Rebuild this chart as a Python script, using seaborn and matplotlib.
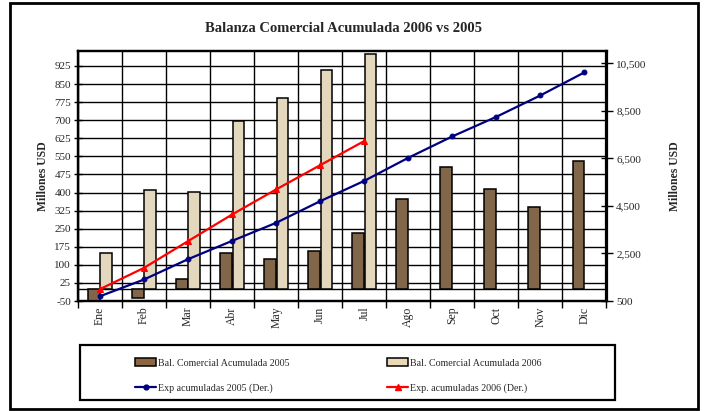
import numpy as np
import pandas as pd
import matplotlib
matplotlib.use("Agg")
import matplotlib.pyplot as plt
import matplotlib.ticker as mticker
from matplotlib.patches import Rectangle, Patch
from matplotlib.lines import Line2D
import seaborn as sns

# ---------------- data ----------------
meses = ["Ene", "Feb", "Mar", "Abr", "May", "Jun", "Jul", "Ago", "Sep", "Oct", "Nov", "Dic"]
bal_2005 = [-50, -38, 43, 148, 125, 158, 232, 373, 506, 414, 341, 530]
bal_2006 = [149, 412, 404, 697, 793, 909, 974, None, None, None, None, None]
exp_2005 = [700, 1405, 2260, 3030, 3790, 4700, 5555, 6525, 7425, 8250, 9150, 10120]
exp_2006 = [1000, 1895, 3020, 4140, 5195, 6215, 7230]

lab_b05 = "Bal. Comercial Acumulada 2005"
lab_b06 = "Bal. Comercial Acumulada 2006"
lab_e05 = "Exp acumuladas 2005 (Der.)"
lab_e06 = "Exp. acumuladas 2006 (Der.)"
left_ticks = list(range(-50, 926, 75))
right_ticks = list(range(500, 10501, 2000))

# ---------------- style ----------------
sns.set_theme(style="white")
plt.rcParams["font.family"] = ["Liberation Serif", "DejaVu Serif"]
plt.rcParams["axes.unicode_minus"] = False

W, H = 705, 411
fig = plt.figure(figsize=(W / 100, H / 100), dpi=100)

def fx(px):
    return px / W

def fy(py):
    return 1 - py / H

# outer frame
fig.patches.append(Rectangle((fx(10), fy(409)), fx(698) - fx(10), fy(3.5) - fy(409),
                             transform=fig.transFigure, fill=False, lw=2, ec="black", zorder=0))

L, R, T, B = 78, 606.5, 51, 301
ax = fig.add_axes([fx(L), fy(B), fx(R) - fx(L), fy(T) - fy(B)])

c05 = "#8B6640"
c06 = "#EAD9B6"

df = pd.DataFrame({
    "Mes": meses * 2,
    "Valor": bal_2005 + bal_2006,
    "Serie": [lab_b05] * 12 + [lab_b06] * 12,
})
sns.barplot(data=df, x="Mes", y="Valor", hue="Serie", order=meses,
            hue_order=[lab_b05, lab_b06], palette=[c05, c06],
            width=0.56, gap=0.06, edgecolor="black", linewidth=1.1,
            legend=False, ax=ax, zorder=3)

ax.set_xlim(-0.5, 11.5)
ax.set_ylim(-50, 987)
ax.set_yticks(left_ticks)
ax.set_xticks(range(12))
ax.set_xticklabels(meses, rotation=90, fontsize=8.5)
ax.xaxis.set_minor_locator(mticker.FixedLocator(np.arange(-0.5, 12, 1)))
ax.tick_params(axis="x", which="major", length=0, pad=4)
ax.tick_params(axis="x", which="minor", length=5, width=1, color="black", direction="out", bottom=True)
ax.tick_params(axis="y", which="major", length=6, width=1, color="black", direction="inout",
               labelsize=8, pad=2, left=True)
ax.set_axisbelow(True)
ax.grid(True, axis="y", which="major", color="black", lw=1)
ax.grid(True, axis="x", which="minor", color="black", lw=1)
ax.axhline(0, color="black", lw=1, zorder=2)
ax.set_xlabel("")
ax.set_ylabel("Millones USD", fontsize=8.5, fontweight="bold", labelpad=4)
for s in ax.spines.values():
    s.set_color("black")
    s.set_linewidth(1.6)

ax2 = ax.twinx()
sns.lineplot(x=np.arange(len(exp_2005)), y=exp_2005, ax=ax2, color="#000080", lw=1.6,
             marker="o", markersize=3.5, markeredgecolor="#000080", zorder=5)
sns.lineplot(x=np.arange(len(exp_2006)), y=exp_2006, ax=ax2, color="#FF0000", lw=1.6,
             marker="^", markersize=5, markeredgecolor="#FF0000", zorder=5)
ax2.set_ylim(500, 11018)
ax2.set_yticks(right_ticks)
ax2.yaxis.set_major_formatter(mticker.FuncFormatter(lambda v, p: f"{int(v):,}"))
ax2.tick_params(axis="y", length=8, width=1, color="black", direction="inout",
                labelsize=8, pad=3, right=True)
ax2.set_ylabel("Millones USD", fontsize=8.5, fontweight="bold", labelpad=16)
ax2.grid(False)
for s in ax2.spines.values():
    s.set_color("black")
    s.set_linewidth(1.6)

fig.text(fx(343.5), fy(29), "Balanza Comercial Acumulada 2006 vs 2005",
         ha="center", va="center", fontsize=10.5, fontweight="bold")

# legend box
fig.patches.append(Rectangle((fx(80), fy(400)), fx(615) - fx(80), fy(345) - fy(400),
                             transform=fig.transFigure, fill=False, lw=1.6, ec="black", zorder=0))
h_b05 = Patch(facecolor=c05, edgecolor="black", lw=1.1)
h_b06 = Patch(facecolor=c06, edgecolor="black", lw=1.1)
h_e05 = Line2D([], [], color="#000080", lw=1.6, marker="o", markersize=3.5)
h_e06 = Line2D([], [], color="#FF0000", lw=1.6, marker="^", markersize=5)
common = dict(frameon=False, fontsize=7.2, handlelength=2.1, handleheight=0.9,
              handletextpad=0.15, labelspacing=1.55, borderpad=0, loc="upper left")
fig.legend([h_b05, h_e05], [lab_b05, lab_e05], bbox_to_anchor=(fx(130), fy(353)), **common)
fig.legend([h_b06, h_e06], [lab_b06, lab_e06], bbox_to_anchor=(fx(382), fy(353)), **common)

fig.savefig("out.png", dpi=100)
